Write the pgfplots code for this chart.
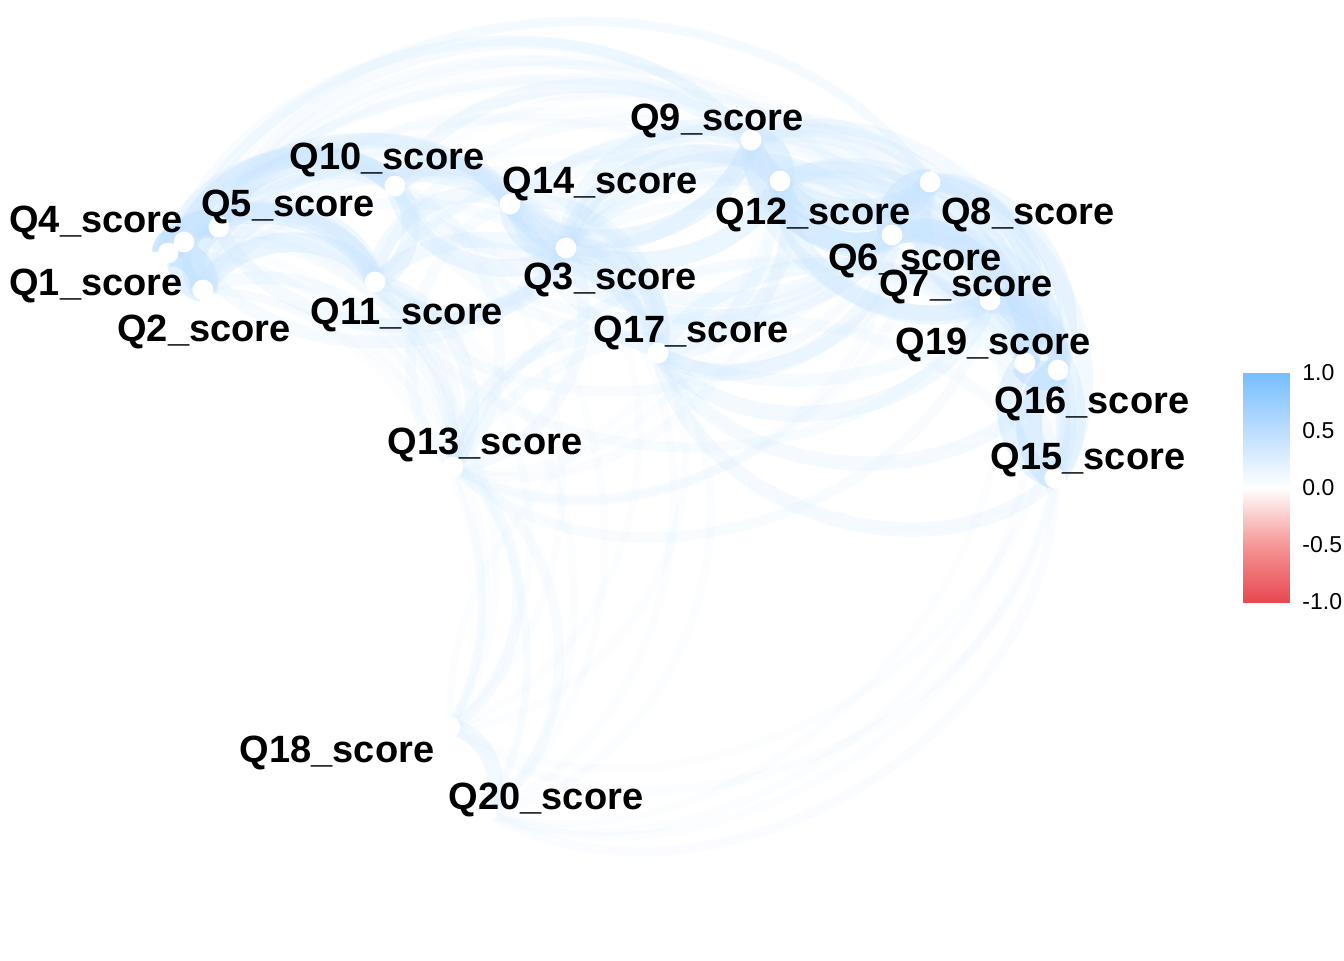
\documentclass[border=0pt]{standalone}
\usepackage{pgfplots}
\pgfplotsset{compat=1.18}
\usepackage{pgfplotstable}
\usepackage{fontspec}
\setmainfont{Liberation Sans}
\definecolor{cbtop}{RGB}{118,190,255}

\pgfplotstableread{
id x y lx ly
1 168 253 96 295
2 203 290 204 341
3 566 248 610 289
4 184 242 96 232
5 219 227 288 216
6 892 235 915 270
7 990 300 966 296
8 930 182 1028 224
9 751 140 717 130
10 395 186 387 169
11 375 282 407 324
12 780 181 813 224
13 453 467 485 454
14 510 204 600 193
15 1055 478 1088 469
16 1058 370 1092 413
17 658 353 691 342
18 450 727 337 762
19 1025 363 993 354
20 487 813 546 809
}\nodes

\pgfplotstableread{
a b r
1 2 0.55
1 4 0.60
1 5 0.50
1 10 0.42
1 11 0.45
2 4 0.50
2 5 0.48
2 10 0.40
2 11 0.45
4 5 0.55
4 10 0.45
4 11 0.42
5 10 0.45
5 11 0.42
10 11 0.42
3 14 0.45
3 17 0.42
3 13 0.36
13 14 0.34
13 17 0.36
14 17 0.38
1 3 0.36
1 13 0.34
1 14 0.36
1 17 0.33
2 3 0.36
2 13 0.36
2 14 0.34
2 17 0.34
3 4 0.36
3 5 0.38
3 10 0.42
3 11 0.42
4 13 0.33
4 14 0.36
4 17 0.32
5 13 0.34
5 14 0.40
5 17 0.34
10 13 0.34
10 14 0.44
10 17 0.36
11 13 0.38
11 14 0.40
11 17 0.40
6 7 0.50
6 8 0.52
6 9 0.46
6 12 0.50
6 15 0.40
6 16 0.42
6 19 0.46
7 8 0.46
7 9 0.40
7 12 0.44
7 15 0.45
7 16 0.48
7 19 0.52
8 9 0.46
8 12 0.48
8 15 0.40
8 16 0.42
8 19 0.44
9 12 0.50
9 15 0.36
9 16 0.38
9 19 0.38
12 15 0.38
12 16 0.40
12 19 0.42
15 16 0.52
15 19 0.48
16 19 0.56
3 6 0.40
3 7 0.36
3 8 0.36
3 9 0.40
3 12 0.42
3 15 0.33
3 16 0.34
3 19 0.36
6 13 0.32
6 14 0.40
6 17 0.40
7 13 0.33
7 14 0.36
7 17 0.40
8 13 0.32
8 14 0.38
8 17 0.36
9 13 0.31
9 14 0.44
9 17 0.36
12 13 0.32
12 14 0.44
12 17 0.38
13 15 0.34
13 16 0.33
13 19 0.33
14 15 0.33
14 16 0.34
14 19 0.36
15 17 0.38
16 17 0.38
17 19 0.40
1 8 0.32
1 9 0.33
1 15 0.30
1 16 0.31
1 19 0.31
2 7 0.31
2 15 0.31
2 16 0.31
4 8 0.32
4 9 0.33
4 15 0.31
4 16 0.32
5 6 0.32
5 7 0.31
5 9 0.35
5 12 0.34
6 10 0.34
8 10 0.34
9 10 0.38
10 12 0.38
10 16 0.31
6 11 0.33
7 11 0.33
11 12 0.34
11 16 0.31
11 19 0.32
18 20 0.40
13 18 0.34
13 20 0.33
11 18 0.31
1 18 0.30
2 18 0.31
4 18 0.30
5 18 0.30
3 18 0.30
10 18 0.30
17 18 0.31
15 18 0.31
16 18 0.30
18 19 0.30
1 20 0.30
2 20 0.30
3 20 0.31
10 20 0.30
11 20 0.31
17 20 0.31
15 20 0.32
16 20 0.31
19 20 0.31
7 20 0.30
}\edges

\begin{document}
\begin{tikzpicture}
\useasboundingbox (0,0) rectangle (672pt,480pt);
\begin{axis}[at={(0,0)}, anchor=south west, scale only axis,
  width=672pt, height=480pt,
  xmin=0, xmax=1344, ymin=0, ymax=960, y dir=reverse,
  hide axis, clip=true]
\pgfplotstablegetrowsof{\edges}
\pgfmathtruncatemacro{\elast}{\pgfplotsretval-1}
\pgfplotsforeachungrouped \k in {0,...,\elast}{%
  \pgfplotstablegetelem{\k}{a}\of{\edges}\pgfmathtruncatemacro\ra{\pgfplotsretval-1}%
  \pgfplotstablegetelem{\k}{b}\of{\edges}\pgfmathtruncatemacro\rb{\pgfplotsretval-1}%
  \pgfplotstablegetelem{\k}{r}\of{\edges}\let\rr\pgfplotsretval
  \pgfplotstablegetelem{\ra}{x}\of{\nodes}\let\xa\pgfplotsretval
  \pgfplotstablegetelem{\ra}{y}\of{\nodes}\let\ya\pgfplotsretval
  \pgfplotstablegetelem{\rb}{x}\of{\nodes}\let\xb\pgfplotsretval
  \pgfplotstablegetelem{\rb}{y}\of{\nodes}\let\yb\pgfplotsretval
  \pgfmathsetmacro\op{0.09+(\rr-0.3)*1.6}%
  \pgfmathsetmacro\lw{4+(\rr-0.3)*40}%
  \pgfmathtruncatemacro\pc{\rr*100}%
  \edef\temp{\noexpand\draw[line width=\lw pt, draw=cbtop!\pc!white, opacity=\op]
    (axis cs:\xa,\ya) to[bend left=60] (axis cs:\xb,\yb);}\temp
}
\addplot[only marks, color=white, mark=*, mark size=5pt, mark options={fill=white, draw=white}]
  table[x=x, y=y]{\nodes};
\addplot[draw=none, mark=none, point meta=explicit symbolic,
  nodes near coords={Q\pgfplotspointmeta\_score},
  nodes near coords style={anchor=base, inner sep=0pt, text=black,
    font=\bfseries\fontsize{19}{19}\selectfont}]
  table[x=lx, y=ly, meta=id]{\nodes};
\end{axis}
\begin{axis}[at={(621.5pt,179pt)}, anchor=south west, scale only axis,
  width=23pt, height=114.5pt,
  xmin=0, xmax=1, ymin=-1, ymax=1,
  axis line style={draw=none}, xtick=\empty,
  ytick={-1,-0.5,0,0.5,1}, yticklabels={-1.0,-0.5,0.0,0.5,1.0},
  ytick pos=both, yticklabel pos=right, tick align=inside,
  major tick length=4.5pt, tick style={white, line width=0.8pt},
  yticklabel style={anchor=west, inner sep=0pt, xshift=6.5pt,
    font=\fontsize{11.5}{12}\selectfont},
  colormap={cm}{rgb255=(232,72,80) rgb255=(246,150,150) rgb255=(255,255,255) rgb255=(187,221,255) rgb255=(118,190,255)},
  point meta min=-1, point meta max=1, clip=false]
\addplot[surf, shader=interp, mesh/rows=5, mesh/cols=2, point meta=y]
  coordinates {(0,-1) (1,-1) (0,-0.5) (1,-0.5) (0,0) (1,0) (0,0.5) (1,0.5) (0,1) (1,1)};
\end{axis}
\end{tikzpicture}
\end{document}
